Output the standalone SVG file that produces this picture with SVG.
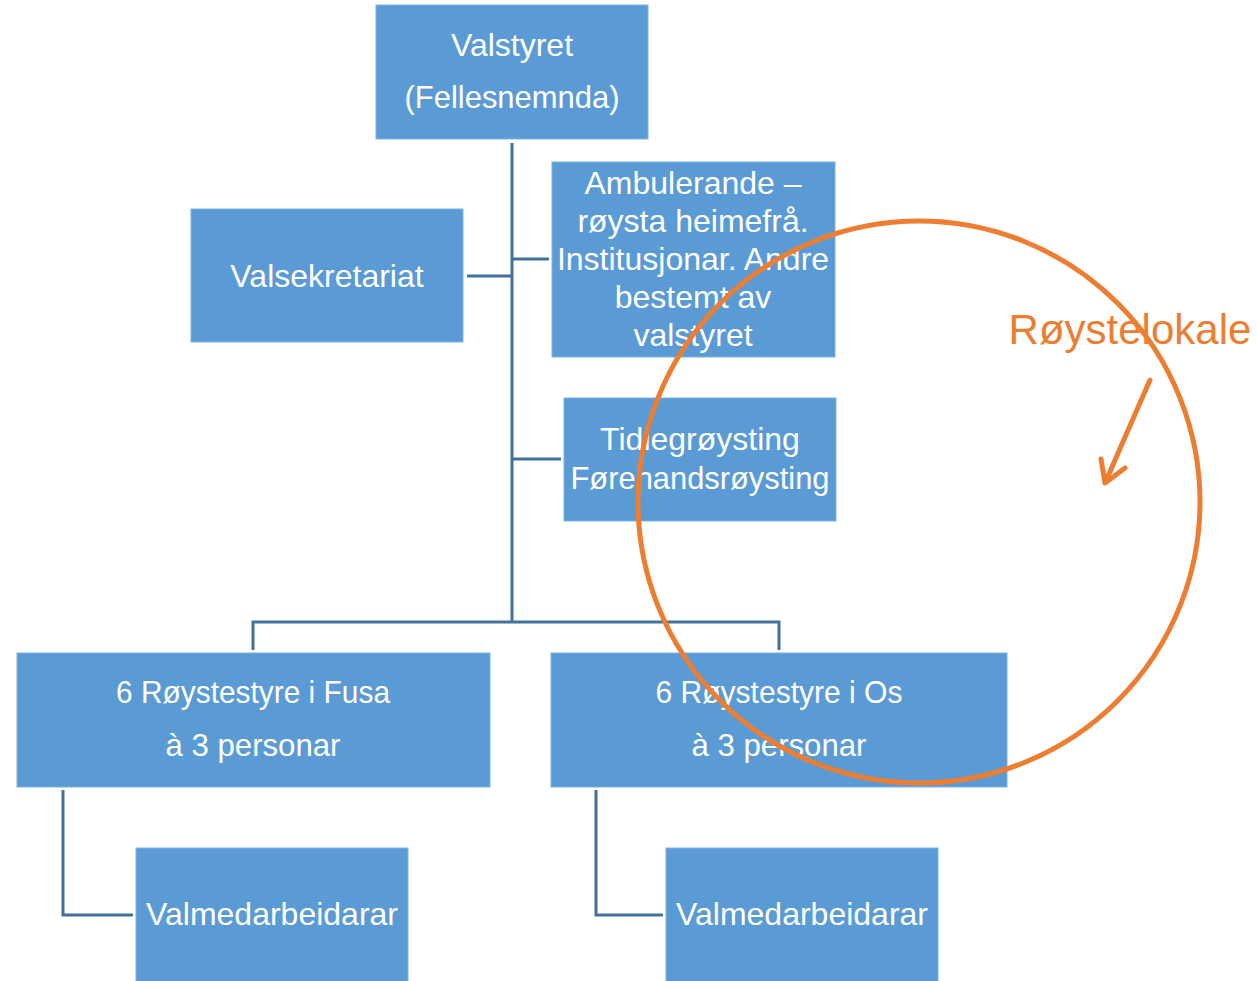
<svg xmlns="http://www.w3.org/2000/svg" width="1258" height="981" viewBox="0 0 1258 981">
<style>
.box{fill:#5B9BD5;stroke:#7FB1E0;stroke-width:1}
.t{font-family:"Liberation Sans",Arial,sans-serif;font-size:32px;fill:#FFFFFF;text-anchor:middle}
.c{fill:none;stroke:#41719C;stroke-width:3}
.o{fill:none;stroke:#ED7D31;stroke-width:5}
</style>
<rect width="1258" height="981" fill="#FFFFFF"/>
<g id="connectors">
<path class="c" d="M512 143V622"/>
<path class="c" d="M467 276H512"/>
<path class="c" d="M512 259H549"/>
<path class="c" d="M512 459H561"/>
<path class="c" d="M253 650V622H779V650"/>
<path class="c" d="M63 790V915H133"/>
<path class="c" d="M596 790V915H663"/>
</g>
<g id="valstyret">
<rect class="box" x="376" y="5" width="272" height="134"/>
<text class="t" x="512" y="56">Valstyret</text>
<text class="t" x="512" y="108" textLength="215" lengthAdjust="spacingAndGlyphs">(Fellesnemnda)</text>
</g>
<g id="valsekretariat">
<rect class="box" x="191" y="209" width="272" height="133"/>
<text class="t" x="327" y="287">Valsekretariat</text>
</g>
<g id="ambulerande">
<rect class="box" x="552" y="162" width="283" height="195"/>
<text class="t" x="693" y="194">Ambulerande –</text>
<text class="t" x="693" y="232">røysta heimefrå.</text>
<text class="t" x="693" y="270">Institusjonar. Andre</text>
<text class="t" x="693" y="308">bestemt av</text>
<text class="t" x="693" y="346">valstyret</text>
</g>
<g id="tidleg">
<rect class="box" x="564" y="398" width="272" height="123"/>
<text class="t" x="700" y="450">Tidlegrøysting</text>
<text class="t" x="700" y="489" textLength="259" lengthAdjust="spacingAndGlyphs">Førehandsrøysting</text>
</g>
<g id="fusa">
<rect class="box" x="17" y="653" width="473" height="134"/>
<text class="t" x="253" y="703" textLength="274" lengthAdjust="spacingAndGlyphs">6 Røystestyre i Fusa</text>
<text class="t" x="253" y="756" textLength="175" lengthAdjust="spacingAndGlyphs">à 3 personar</text>
</g>
<g id="os">
<rect class="box" x="551" y="653" width="456" height="134"/>
<text class="t" x="779" y="703" textLength="247" lengthAdjust="spacingAndGlyphs">6 Røystestyre i Os</text>
<text class="t" x="779" y="756" textLength="175" lengthAdjust="spacingAndGlyphs">à 3 personar</text>
</g>
<g id="valmed-fusa">
<rect class="box" x="136" y="848" width="272" height="140"/>
<text class="t" x="272" y="925">Valmedarbeidarar</text>
</g>
<g id="valmed-os">
<rect class="box" x="666" y="848" width="272" height="140"/>
<text class="t" x="802" y="925">Valmedarbeidarar</text>
</g>
<g id="roystelokale">
<circle class="o" cx="919" cy="502" r="281"/>
<text x="1130" y="344" style="font-family:'Liberation Sans',Arial,sans-serif;font-size:42px;fill:#ED7D31;text-anchor:middle">Røystelokale</text>
<path class="o" stroke-width="4" stroke-linecap="round" stroke-linejoin="round" d="M1150 380L1105 483M1101 459L1105 483L1125 468"/>
</g>
</svg>
